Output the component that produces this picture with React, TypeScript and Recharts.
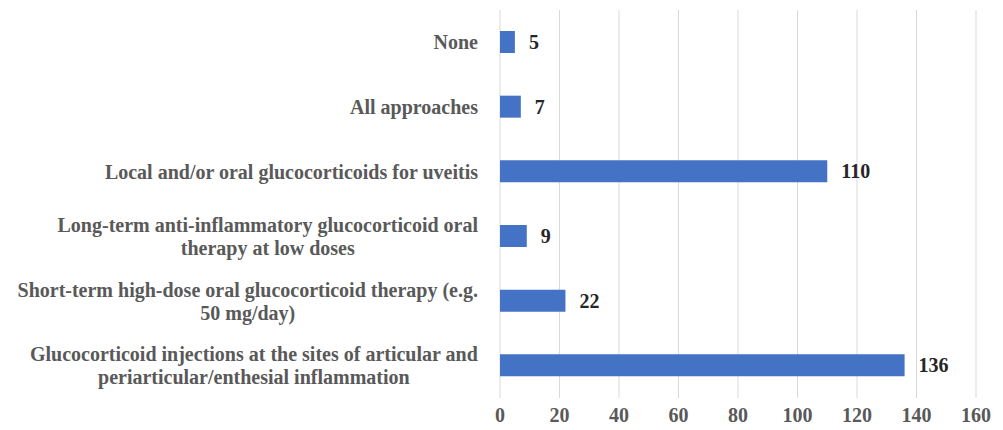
import { BarChart, Bar, XAxis, YAxis, CartesianGrid, LabelList } from "recharts";

const categories = [
  "None",
  "All approaches",
  "Local and/or oral glucocorticoids for uveitis",
  "Long-term anti-inflammatory glucocorticoid oral\ntherapy at low doses",
  "Short-term high-dose oral glucocorticoid therapy (e.g.\n50 mg/day)",
  "Glucocorticoid injections at the sites of articular and\nperiarticular/enthesial inflammation",
];
const counts = [5, 7, 110, 9, 22, 136];
const xTicks = [0, 20, 40, 60, 80, 100, 120, 140, 160];

const data = categories.map((name, i) => ({ name, value: counts[i] }));

const FONT = '"Liberation Serif", "Times New Roman", serif';
const FONT_SIZE = 20;

let ctx: CanvasRenderingContext2D | null = null;
const measure = (s: string) => {
  if (!ctx) {
    ctx = document.createElement("canvas").getContext("2d");
  }
  if (!ctx) return s.length * 9;
  ctx.font = `bold ${FONT_SIZE}px ${FONT}`;
  return ctx.measureText(s).width;
};

const CategoryTick = (props: any) => {
  const { x, y, payload } = props;
  const lines: string[] = String(payload.value).split("\n");
  if (lines.length === 1) {
    return (
      <text x={x} y={y} dy="0.35em" textAnchor="end" fill="#595959"
        fontFamily={FONT} fontSize={FONT_SIZE} fontWeight="bold">
        {lines[0]}
      </text>
    );
  }
  const w = Math.max(...lines.map(measure));
  const cx = x - w / 2;
  const lh = 23;
  const start = y - ((lines.length - 1) * lh) / 2;
  return (
    <text textAnchor="middle" fill="#595959" fontFamily={FONT}
      fontSize={FONT_SIZE} fontWeight="bold">
      {lines.map((l, i) => (
        <tspan key={i} x={cx} y={start + i * lh} dy="0.35em">{l}</tspan>
      ))}
    </text>
  );
};

export default function App() {
  return (
    <div style={{ position: "absolute", left: 0, top: 0, background: "#fff" }}>
      <BarChart
        width={1003}
        height={430}
        data={data}
        layout="vertical"
        margin={{ top: 10, right: 27, left: 0, bottom: 0 }}
      >
        <CartesianGrid horizontal={false} stroke="#d9d9d9" />
        <XAxis
          type="number"
          domain={[0, 160]}
          ticks={xTicks}
          axisLine={false}
          tickLine={false}
          height={32}
          tickMargin={4}
          tick={{ fill: "#595959", fontFamily: FONT, fontSize: FONT_SIZE, fontWeight: "bold" }}
        />
        <YAxis
          type="category"
          dataKey="name"
          width={500}
          axisLine={false}
          tickLine={false}
          tickMargin={16}
          interval={0}
          tick={<CategoryTick />}
        />
        <Bar dataKey="value" fill="#4472C4" barSize={22} isAnimationActive={false}>
          <LabelList
            dataKey="value"
            position="right"
            offset={14}
            fill="#262626"
            fontFamily={FONT}
            fontSize={FONT_SIZE}
            fontWeight="bold"
          />
        </Bar>
      </BarChart>
    </div>
  );
}
